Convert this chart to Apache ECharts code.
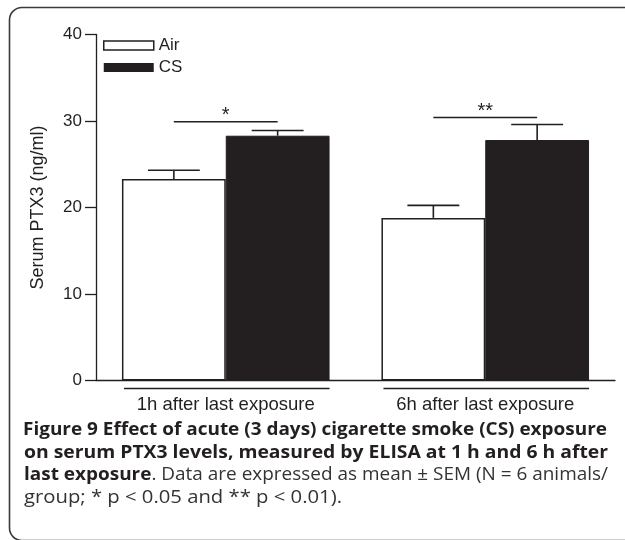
<!DOCTYPE html>
<html>
<head>
<meta charset="utf-8">
<script src="https://cdn.jsdelivr.net/npm/echarts@6/dist/echarts.min.js"></script>
<style>
html,body{margin:0;padding:0;background:#fff;}
#chart{width:625px;height:540px;}
</style>
</head>
<body>
<div id="chart"></div>
<script>
// ---- data ----
var categories = ['1h after last exposure', '6h after last exposure'];
var seriesNames = ['Air', 'CS'];
var airMean = [23.3, 18.8];
var airSem = [1.0, 1.45];
var csMean = [28.3, 27.8];
var csSem = [0.6, 1.8];
var sigLevel = [29.9, 30.4];
var sigLabel = ['*', '**'];
var yTicks = [0, 10, 20, 30, 40];
var yAxisTitle = 'Serum PTX3 (ng/ml)';
var captionLines = [
  'Figure 9 Effect of acute (3 days) cigarette smoke (CS) exposure',
  'on serum PTX3 levels, measured by ELISA at 1 h and 6 h after',
  'last exposure',
  '. Data are expressed as mean \u00b1 SEM (N = 6 animals/',
  'group; * p < 0.05 and ** p < 0.01).'
];

var INK = '#231f20';
var BAR_FRAC = 0.4;

var errData = [];
for (var i = 0; i < categories.length; i++) {
  errData.push([i, airMean[i], airSem[i], 0]);
  errData.push([i, csMean[i], csSem[i], 1]);
}
var sigData = [];
for (var j = 0; j < categories.length; j++) sigData.push([j, sigLevel[j]]);
var bracketData = [];
for (var k = 0; k < categories.length; k++) bracketData.push([k, 0]);

var chart = echarts.init(document.getElementById('chart'), null, {renderer: 'canvas'});

var capFont = '"Open Sans", sans-serif';
var axFont = '"Liberation Sans", Arial, sans-serif';
var CAP_SIZE = 18.5;
var CAP_X = 23, CAP_W = 584, CAP_W4 = 318;

var mctx = document.createElement('canvas').getContext('2d');
function tw(text, font) { mctx.font = font; return mctx.measureText(text).width; }
var boldF = 'bold ' + CAP_SIZE + 'px ' + capFont;
var regF = CAP_SIZE + 'px ' + capFont;
var s1 = CAP_W / tw(captionLines[0], boldF);
var s2 = CAP_W / tw(captionLines[1], boldF);
var s3 = CAP_W / (tw(captionLines[2], boldF) + tw(captionLines[3], regF));
var s4 = CAP_W4 / tw(captionLines[4], regF);

var option = {
  animation: false,
  backgroundColor: '#fff',
  grid: {left: 96, right: 10, top: 34.5, bottom: 159.5, containLabel: false},
  legend: {
    orient: 'vertical',
    left: 103,
    top: 37,
    padding: 0,
    itemWidth: 50,
    itemHeight: 9,
    itemGap: 5,
    selectedMode: false,
    textStyle: {fontFamily: axFont, fontSize: 17, color: INK},
    data: [
      {name: 'Air', icon: 'rect', itemStyle: {color: '#fff', borderColor: INK, borderWidth: 1.5}},
      {name: 'CS', icon: 'rect', itemStyle: {color: INK, borderWidth: 0}}
    ]
  },
  xAxis: {
    type: 'category',
    data: categories,
    axisLine: {lineStyle: {color: INK, width: 1.3}},
    axisTick: {show: false},
    axisLabel: {fontFamily: axFont, fontSize: 18.5, color: INK, margin: 15}
  },
  yAxis: {
    type: 'value',
    min: 0, max: 40, interval: 10,
    splitLine: {show: false},
    axisLine: {show: true, lineStyle: {color: INK, width: 1.3}},
    axisTick: {show: true, length: 11, lineStyle: {color: INK, width: 1.3}},
    axisLabel: {fontFamily: axFont, fontSize: 17, color: INK, margin: 14,
      formatter: function (v) { return yTicks.indexOf(v) >= 0 ? String(v) : ''; }},
    name: yAxisTitle,
    nameLocation: 'middle',
    nameGap: 49,
    nameTextStyle: {fontFamily: axFont, fontSize: 18, color: INK}
  },
  series: [
    {
      name: seriesNames[0], type: 'bar', data: airMean, barWidth: (BAR_FRAC * 100) + '%', barGap: '0%',
      itemStyle: {color: '#fff', borderColor: INK, borderWidth: 1.5}, z: 2
    },
    {
      name: seriesNames[1], type: 'bar', data: csMean, barWidth: (BAR_FRAC * 100) + '%', barGap: '0%',
      itemStyle: {color: INK, borderColor: INK, borderWidth: 1}, z: 2
    },
    {
      name: 'err', type: 'custom', data: errData, z: 3, clip: false,
      encode: {x: 0, y: 1},
      renderItem: function (params, api) {
        var cat = api.value(0), m = api.value(1), s = api.value(2), idx = api.value(3);
        var band = api.size([1, 0])[0];
        var bw = band * BAR_FRAC;
        var cx = api.coord([cat, m])[0] + (idx === 0 ? -bw / 2 : bw / 2);
        var yb = api.coord([cat, m])[1];
        var yt = api.coord([cat, m + s])[1];
        var st = {stroke: INK, lineWidth: 1.6};
        return {type: 'group', children: [
          {type: 'line', shape: {x1: cx, y1: yb, x2: cx, y2: yt}, style: st},
          {type: 'line', shape: {x1: cx - bw / 4, y1: yt, x2: cx + bw / 4, y2: yt}, style: st}
        ]};
      }
    },
    {
      name: 'sig', type: 'custom', data: sigData, z: 3, clip: false,
      encode: {x: 0, y: 1},
      renderItem: function (params, api) {
        var cat = api.value(0), lv = api.value(1);
        var band = api.size([1, 0])[0];
        var bw = band * BAR_FRAC;
        var p = api.coord([cat, lv]);
        return {type: 'group', children: [
          {type: 'line', shape: {x1: p[0] - bw / 2, y1: p[1], x2: p[0] + bw / 2, y2: p[1]}, style: {stroke: INK, lineWidth: 1.5}},
          {type: 'text', x: p[0], y: p[1] - 6, style: {text: sigLabel[params.dataIndex], fill: INK,
            font: '20px "Liberation Sans", Arial, sans-serif', textAlign: 'center', textVerticalAlign: 'middle'}}
        ]};
      }
    },
    {
      name: 'bracket', type: 'custom', data: bracketData, z: 3, clip: false,
      encode: {x: 0, y: 1},
      renderItem: function (params, api) {
        var cat = api.value(0);
        var band = api.size([1, 0])[0];
        var bw = band * BAR_FRAC;
        var p = api.coord([cat, 0]);
        return {type: 'line', shape: {x1: p[0] - bw + 2, y1: p[1] + 8, x2: p[0] + bw, y2: p[1] + 8},
          style: {stroke: INK, lineWidth: 1.5}};
      }
    }
  ],
  graphic: [
    {type: 'rect', silent: true, z: 0,
      shape: {x: 9.5, y: 7.5, width: 700, height: 533, r: 12.5},
      style: {fill: null, stroke: '#3a3a3a', lineWidth: 1.6}},
    {type: 'text', x: CAP_X, y: 430, scaleX: s1,
      style: {text: captionLines[0], fill: INK, font: boldF, textVerticalAlign: 'middle'}},
    {type: 'text', x: CAP_X + 1, y: 452.5, scaleX: s2,
      style: {text: captionLines[1], fill: INK, font: boldF, textVerticalAlign: 'middle'}},
    {type: 'text', x: CAP_X + 1, y: 475, scaleX: s3, style: {
      text: '{b|' + captionLines[2] + '}{r|' + captionLines[3] + '}',
      textVerticalAlign: 'middle',
      rich: {
        b: {fill: INK, font: boldF},
        r: {fill: '#333', font: regF}
      }}},
    {type: 'text', x: CAP_X + 1, y: 497.5, scaleX: s4,
      style: {text: captionLines[4], fill: '#333', font: regF, textVerticalAlign: 'middle'}}
  ]
};
chart.setOption(option);
</script>
</body>
</html>
